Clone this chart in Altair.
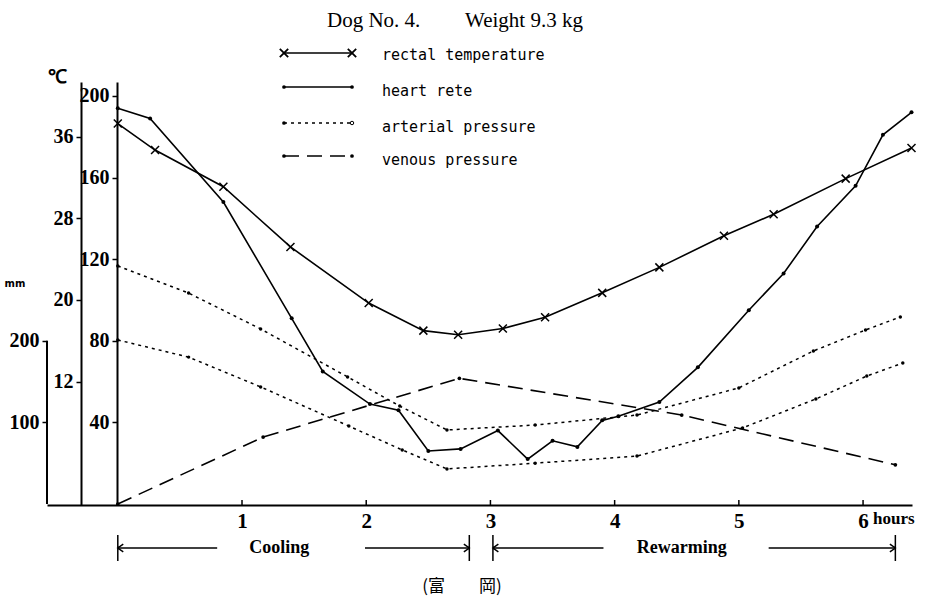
import altair as alt
import pandas as pd

# ---------------- data ----------------
# heart rate (beats/min), hours
hr_t = [0.00, 0.26, 0.85, 1.40, 1.65, 2.03, 2.26, 2.50, 2.76, 3.06, 3.30, 3.50,
        3.70, 3.90, 4.03, 4.36, 4.67, 5.08, 5.36, 5.63, 5.94, 6.16, 6.39]
hr_v = [194, 189, 148, 91, 65, 49, 46, 26, 27, 36, 22, 31,
        28, 41, 43, 50, 67, 95, 113, 136, 156, 181, 192]

# rectal temperature (deg C)
temp_t = [0.00, 0.30, 0.85, 1.39, 2.02, 2.46, 2.74, 3.10, 3.44, 3.90, 4.36, 4.88,
          5.28, 5.86, 6.39]
temp_v = [37.3, 34.7, 31.1, 25.2, 19.7, 17.0, 16.6, 17.2, 18.3, 20.7, 23.2, 26.3,
          28.4, 31.9, 34.9]

# arterial pressure (mmHg): systolic and diastolic
art_sys_t = [0.00, 0.57, 1.15, 1.85, 2.27, 2.65, 3.36, 4.18, 5.00, 5.60, 6.02, 6.30]
art_sys_v = [116.7, 103.4, 85.8, 62.3, 48.0, 36.3, 38.7, 43.6, 56.9, 75.0, 85.3, 91.7]
art_dia_t = [0.00, 0.57, 1.15, 1.86, 2.29, 2.65, 3.36, 4.18, 5.03, 5.62, 6.03, 6.32]
art_dia_v = [80.4, 72.0, 57.4, 38.2, 26.5, 17.2, 20.0, 23.5, 37.3, 51.5, 62.7, 69.1]

# venous pressure (mm)
ven_t = [0.00, 1.17, 2.75, 4.54, 6.26]
ven_v = [0, 82, 154, 109, 48]

# axes tick values
hour_ticks = [1, 2, 3, 4, 5, 6]
hr_ticks = [40, 80, 120, 160, 200]
temp_ticks = [12, 20, 28, 36]
mm_ticks = [100, 200]
mm_axis_top = 200

# phases
phase_names = ["Cooling", "Rewarming"]
phase_start = [0.00, 3.02]
phase_end = [2.83, 6.26]
phase_label_at = [1.30, 4.54]
phase_gap_lo = [0.80, 3.91]
phase_gap_hi = [1.99, 5.24]

legend_labels = ["rectal temperature", "heart rete", "arterial pressure", "venous pressure"]
title_left = "Dog No. 4."
title_right = "Weight 9.3 kg"
author = "(富\u3000\u3000岡)"

# ---------------- tables ----------------
hr_df = pd.DataFrame({"t": hr_t, "v": hr_v})
temp_df = pd.DataFrame({"t": temp_t, "v": temp_v})
art_df = pd.concat([
    pd.DataFrame({"t": art_sys_t, "v": art_sys_v, "s": "sys"}),
    pd.DataFrame({"t": art_dia_t, "v": art_dia_v, "s": "dia"}),
])
ven_df = pd.DataFrame({"t": ven_t, "v": ven_v})
phase_df = pd.DataFrame({"name": phase_names, "start": phase_start, "end": phase_end,
                         "at": phase_label_at, "glo": phase_gap_lo, "ghi": phase_gap_hi})
tick_df = pd.DataFrame({"t": hour_ticks})
mm_df = pd.DataFrame({"lo": [0], "hi": [mm_axis_top]})
hours_df = pd.DataFrame({"t": [hour_ticks[-1]], "label": ["hours"]})
one = pd.DataFrame({"k": [0]})

# ---------------- styles ----------------
SERIF = "Liberation Serif"
MONO = "DejaVu Sans Mono"
W, H = 865, 423
LW = 1.6
X_PATH = "M-1,-1L1,1M-1,1L1,-1"
START_PATH = "M0,-1L0,1M0.42,-0.3L0,0L0.42,0.3"
END_PATH = "M0,-1L0,1M-0.42,-0.3L0,0L-0.42,0.3"
DOT = [3, 4]
DASH = [15, 8]

X_SCALE = alt.Scale(domain=[-0.570, 6.394], nice=False, zero=False)
HR_SCALE = alt.Scale(domain=[-0.49, 206.86], nice=False, zero=False)
T_SCALE = alt.Scale(domain=[-0.098, 41.372], nice=False, zero=False)
MM_SCALE = alt.Scale(domain=[-1.225, 517.15], nice=False, zero=False)


def yaxis(offset, values, domain=True):
    return alt.Axis(orient="left", offset=offset, values=values, format="d", grid=False,
                    domain=domain, domainColor="black", domainWidth=2,
                    ticks=True, tickColor="black", tickWidth=1.5, tickSize=5,
                    labelFont=SERIF, labelFontWeight="bold", labelFontSize=20,
                    labelColor="black", labelPadding=3, title=None)


X_AXIS = alt.Axis(orient="bottom", values=hour_ticks, format="d", grid=False, ticks=False,
                  domain=True, domainColor="black", domainWidth=2, labelFont=SERIF,
                  labelFontWeight="bold", labelFontSize=21, labelColor="black",
                  labelPadding=5, title=None)


def xf(field):
    return alt.X(f"{field}:Q", scale=X_SCALE, axis=X_AXIS)


# ---------------- data layers ----------------
hr_layer = alt.Chart(hr_df).mark_line(
    color="black", strokeWidth=LW,
    point=alt.OverlayMarkDef(filled=True, size=16, color="black")
).encode(x=xf("t"), y=alt.Y("v:Q", scale=HR_SCALE, axis=yaxis(-70, hr_ticks)))

art_layer = alt.Chart(art_df).mark_line(
    color="black", strokeWidth=1.5, strokeDash=DOT,
    point=alt.OverlayMarkDef(filled=True, size=12, color="black")
).encode(x=xf("t"), y=alt.Y("v:Q", scale=HR_SCALE, axis=None), detail="s:N")

temp_layer = alt.Chart(temp_df).mark_line(
    color="black", strokeWidth=LW,
    point=alt.OverlayMarkDef(shape=X_PATH, filled=False, size=64, strokeWidth=1.5,
                             color="black", opacity=1)
).encode(x=xf("t"), y=alt.Y("v:Q", scale=T_SCALE, axis=yaxis(-34, temp_ticks)))

ven_layer = alt.Chart(ven_df).mark_line(
    color="black", strokeWidth=LW, strokeDash=DASH,
    point=alt.OverlayMarkDef(filled=True, size=14, color="black")
).encode(x=xf("t"), y=alt.Y("v:Q", scale=MM_SCALE, axis=None))

mm_axis_layer = alt.Chart(mm_df).mark_rule(color="black", strokeWidth=2).encode(
    x=alt.value(0),
    y=alt.Y("lo:Q", scale=MM_SCALE, axis=yaxis(0, mm_ticks, domain=False)),
    y2="hi:Q")

tick_layer = alt.Chart(tick_df).mark_rule(color="black", strokeWidth=1.5).encode(
    x=xf("t"), y=alt.value(H), y2=alt.value(H - 5))

hours_layer = alt.Chart(hours_df).mark_text(
    font=SERIF, fontWeight="bold", fontSize=17, align="left", baseline="middle",
    color="black", dx=10
).encode(x=xf("t"), y=alt.value(H + 14), text="label:N")

# ---------------- phase annotations ----------------
PY = H + 43
seg_l = alt.Chart(phase_df).mark_rule(color="black", strokeWidth=1.5).encode(
    x=xf("start"), x2="glo:Q", y=alt.value(PY))
seg_r = alt.Chart(phase_df).mark_rule(color="black", strokeWidth=1.5).encode(
    x=xf("ghi"), x2="end:Q", y=alt.value(PY))
mk_s = alt.Chart(phase_df).mark_point(shape=START_PATH, filled=False, size=676,
                                      strokeWidth=1.5, color="black", opacity=1).encode(
    x=xf("start"), y=alt.value(PY))
mk_e = alt.Chart(phase_df).mark_point(shape=END_PATH, filled=False, size=676,
                                      strokeWidth=1.5, color="black", opacity=1).encode(
    x=xf("end"), y=alt.value(PY))
ph_txt = alt.Chart(phase_df).mark_text(font=SERIF, fontWeight="bold", fontSize=18,
                                       baseline="middle", color="black").encode(
    x=xf("at"), y=alt.value(PY), text="name:N")

# ---------------- legend ----------------
LX0, LX1, LTX = 237, 305, 335
row_y = [-29, 5, 41, 74]
txt_y = [-22, 14, 50, 83]
row_dash = [None, None, DOT, DASH]
legend_layers = []
for i, lab in enumerate(legend_labels):
    kw = {"color": "black", "strokeWidth": LW}
    if row_dash[i] is not None:
        kw["strokeDash"] = row_dash[i]
    legend_layers.append(alt.Chart(one).mark_rule(**kw).encode(
        x=alt.value(LX0), x2=alt.value(LX1), y=alt.value(row_y[i])))
    for j, px in enumerate([LX0, LX1]):
        if i == 0:
            m = alt.Chart(one).mark_point(shape=X_PATH, filled=False, size=70,
                                          strokeWidth=1.8, color="black", opacity=1)
        elif i == 2 and j == 1:
            m = alt.Chart(one).mark_point(shape="circle", filled=False, size=12,
                                          strokeWidth=1, color="black", opacity=1)
        else:
            m = alt.Chart(one).mark_point(shape="circle", filled=True, size=14,
                                          color="black", opacity=1)
        legend_layers.append(m.encode(x=alt.value(px), y=alt.value(row_y[i])))
    legend_layers.append(alt.Chart(one).mark_text(
        text=lab, font=MONO, fontSize=15, align="left", baseline="alphabetic",
        color="black").encode(x=alt.value(LTX), y=alt.value(txt_y[i])))

# ---------------- free texts ----------------
texts = [
    alt.Chart(one).mark_text(text=title_left, font=SERIF, fontSize=21, align="left",
                             baseline="alphabetic", color="black").encode(
        x=alt.value(280), y=alt.value(-55)),
    alt.Chart(one).mark_text(text=title_right, font=SERIF, fontSize=21, align="left",
                             baseline="alphabetic", color="black").encode(
        x=alt.value(418), y=alt.value(-55)),
    alt.Chart(one).mark_text(text="℃", font=SERIF, fontSize=19, fontWeight="bold",
                             baseline="middle", color="black").encode(
        x=alt.value(10), y=alt.value(-5)),
    alt.Chart(one).mark_text(text="mm", font="DejaVu Sans", fontSize=10, fontWeight="bold",
                             baseline="middle", color="black").encode(
        x=alt.value(-32), y=alt.value(202)),
    alt.Chart(one).mark_text(text=author, font="Noto Sans CJK JP", fontSize=17,
                             baseline="middle", color="black").encode(
        x=alt.value(415), y=alt.value(505)),
]

chart = alt.layer(
    hr_layer, art_layer, temp_layer, ven_layer, mm_axis_layer, tick_layer, hours_layer,
    seg_l, seg_r, mk_s, mk_e, ph_txt, *legend_layers, *texts
).resolve_scale(y="independent").properties(
    width=W, height=H,
    padding={"left": 47, "top": 82, "right": 15, "bottom": 96},
    autosize=alt.AutoSizeParams(type="none"),
    background="white",
).configure_view(stroke=None)

chart.save("out.html", embed_options={"renderer": "svg", "actions": False})
